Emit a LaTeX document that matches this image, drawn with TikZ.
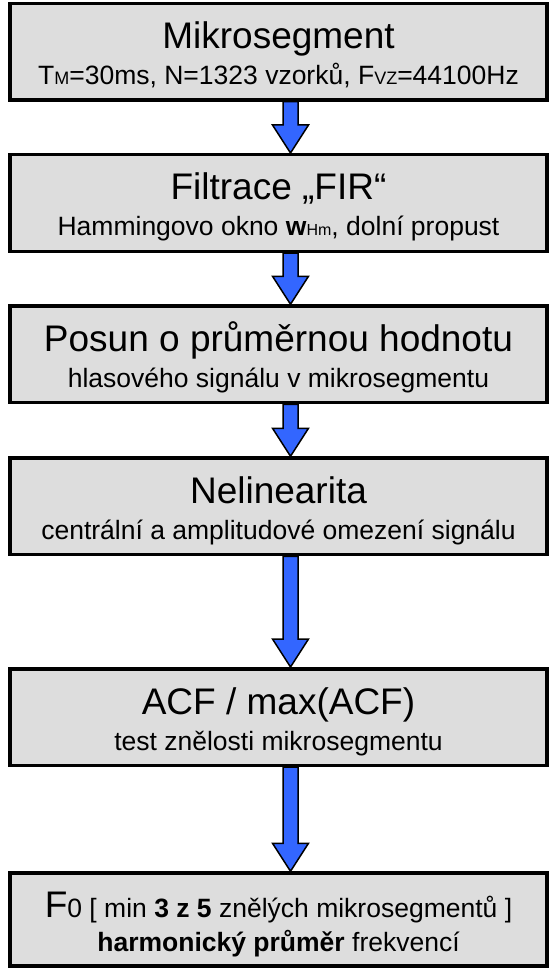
\documentclass[tikz,border=0pt]{standalone}
\usepackage{fontspec}
\setmainfont{Liberation Sans}
\usetikzlibrary{positioning,calc}

\definecolor{boxgrey}{HTML}{DDDDDD}
\definecolor{arrowblue}{HTML}{3366FF}

% block arrow from the bottom of one stage to the top of the next
\newcommand{\flowarrow}[2]{%
  \draw[flowarrowstyle] let \p1=(#1.south), \p2=(#2.north) in
    (\x1+4.5pt,\y1) -- (\x1+19.5pt,\y1) -- (\x1+19.5pt,\y2+28pt) -- (\x1+30pt,\y2+28pt)
    -- (\x1+12pt,\y2) -- (\x1-6pt,\y2+28pt) -- (\x1+4.5pt,\y2+28pt) -- cycle;}

\begin{document}
\begin{tikzpicture}[x=1pt, y=-1pt,
  stagebox/.style={draw=black, line width=3.5pt, fill=boxgrey, minimum width=537pt, minimum height=96.5pt, inner sep=0pt},
  headtxt/.style={anchor=base, inner sep=0pt, font=\fontsize{37}{40}\selectfont},
  subtxt/.style={anchor=base, inner sep=0pt, font=\fontsize{26.5}{30}\selectfont},
  flowarrowstyle/.style={draw=black, line width=1.5pt, fill=arrowblue, line join=miter}]
  \useasboundingbox (0,0) rectangle (549,968);

  \node[stagebox] (mikro) at (278.5,51.75) {};
  \node[stagebox] (fir) at (278.5,203) {};
  \node[stagebox] (posun) at (278.5,354.25) {};
  \node[stagebox] (nelin) at (278.5,506.25) {};
  \node[stagebox] (acf) at (278.5,717) {};
  \node[stagebox, minimum height=93pt] (fzero) at (278.5,919.5) {};

  \node[headtxt] (mikro-t) at ($(mikro.north)+(0,47)$) {Mikrosegment};
  \node[subtxt] (mikro-s) at ($(mikro.north)+(0,83)$) {T{\fontsize{18}{20}\selectfont M}=30ms, N=1323 vzorků, F{\fontsize{18}{20}\selectfont VZ}=44100Hz};

  \node[headtxt] (fir-t) at ($(fir.north)+(0,47)$) {Filtrace „FIR“};
  \node[subtxt] (fir-s) at ($(fir.north)+(0,83)$) {Hammingovo okno \textbf{w}{\fontsize{16}{18}\selectfont Hm}, dolní propust};

  \node[headtxt] (posun-t) at ($(posun.north)+(0,47)$) {Posun o průměrnou hodnotu};
  \node[subtxt] (posun-s) at ($(posun.north)+(0,83)$) {hlasového signálu v mikrosegmentu};

  \node[headtxt] (nelin-t) at ($(nelin.north)+(0,47)$) {Nelinearita};
  \node[subtxt] (nelin-s) at ($(nelin.north)+(0,83)$) {centrální a amplitudové omezení signálu};

  \node[headtxt] (acf-t) at ($(acf.north)+(0,47)$) {ACF / max(ACF)};
  \node[subtxt] (acf-s) at ($(acf.north)+(0,83)$) {test znělosti mikrosegmentu};

  \node[subtxt] (fzero-t) at ($(fzero.north)+(0,46)$) {{\fontsize{37}{40}\selectfont F}0 [ min \textbf{3 z 5} znělých mikrosegmentů ]};
  \node[subtxt] (fzero-s) at ($(fzero.north)+(0,80)$) {\textbf{harmonický průměr} frekvencí};

  \flowarrow{mikro}{fir}
  \flowarrow{fir}{posun}
  \flowarrow{posun}{nelin}
  \flowarrow{nelin}{acf}
  \flowarrow{acf}{fzero}
\end{tikzpicture}
\end{document}
